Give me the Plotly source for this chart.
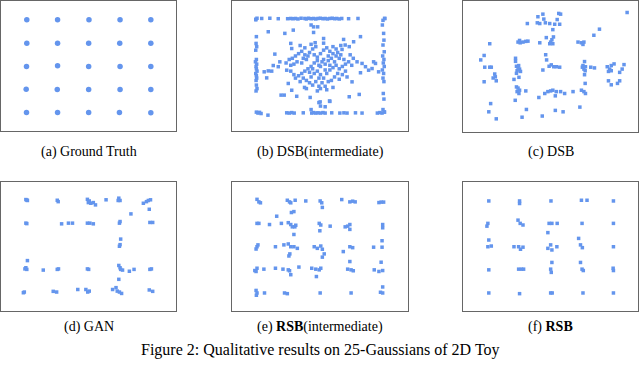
import plotly.graph_objects as go

# point clouds, in grid units (Gaussian centres at -2..2)
gt_pts = [
    (-2.0, 2.01), (-1.01, 2.01), (0.0, 2.01), (1.0, 2.01), (1.99, 2.01),
    (-2.0, 1.0), (-1.01, 1.0), (-0.01, 1.0), (0.99, 1.0), (1.99, 1.0),
    (-2.01, 0.0), (-1.01, 0.03), (-0.01, 0.0), (1.0, 0.0), (1.99, 0.0),
    (-2.02, -0.98), (-1.02, -0.99), (-0.01, -0.99), (1.0, -0.99), (1.99, -0.99),
    (-2.01, -1.98), (-1.01, -1.98), (-0.01, -1.98), (0.98, -1.98), (1.99, -1.99),
]

dsb_mid_pts = [
    # top edge
    (-2.07, 2.03), (-2.03, 2.07), (-1.88, 2.06), (-1.62, 2.07), (-1.35, 2.05), (-1.05, 2.05),
    (-0.95, 2.06), (-0.88, 2.05), (-0.8, 2.06), (-0.72, 2.04), (-0.62, 2.07), (-0.5, 2.06),
    (-0.45, 2.04), (-0.38, 2.07), (-0.3, 2.05), (-0.22, 2.06), (-0.15, 2.04), (-0.08, 2.06),
    (0.0, 2.07), (0.08, 2.05), (0.15, 2.06), (0.22, 2.04), (0.3, 2.06), (0.38, 2.07),
    (0.45, 2.05), (0.52, 2.06), (0.6, 2.04), (0.68, 2.06), (0.9, 2.05), (1.2, 2.06),
    (2.05, 2.06), (2.0, 1.98),
    # left edge
    (-2.07, 2.0), (-2.05, 1.28), (-2.06, 0.99), (-2.04, 0.85), (-2.07, 0.7), (-2.05, 0.3),
    (-2.08, 0.2), (-2.04, 0.1), (-2.06, 0.0), (-2.05, -0.1), (-2.03, -0.2), (-2.07, -0.3),
    (-2.05, -0.4), (-2.04, -0.5), (-2.06, -0.6), (-2.05, -0.8), (-2.03, -0.95), (-2.06, -1.05),
    # right edge
    (2.06, 2.06), (1.98, 1.78), (2.02, 1.42), (2.03, 1.13), (2.0, 0.92), (2.04, 0.63),
    (1.99, 0.45), (2.03, 0.3), (2.01, 0.15), (2.04, 0.0), (1.98, -0.15), (2.02, -0.3),
    (2.0, -0.5), (2.03, -0.65), (2.01, -1.16), (2.03, -1.4), (2.0, -1.85), (2.04, -1.95),
    # bottom edge
    (-2.05, -1.96), (-2.0, -2.0), (-1.95, -1.97), (-1.9, -2.02), (-1.68, -2.09), (-1.08, -1.99),
    (-1.0, -2.0), (-0.92, -1.98), (-0.84, -2.0), (-0.55, -1.99), (-0.28, -2.0), (-0.22, -1.98),
    (-0.15, -2.0), (-0.08, -1.99), (0.0, -2.0), (0.08, -1.98), (0.15, -2.0), (0.36, -1.99),
    (0.62, -2.0), (0.75, -1.99), (0.85, -2.0), (1.12, -1.99), (1.33, -2.0), (1.82, -2.0),
    (1.9, -1.98), (1.97, -2.0), (2.05, -1.96),
    (-0.3, -1.85), (0.0, -1.7), (-0.05, -1.55), (0.3, -1.5), (0.15, -1.73),
    # scattered interior
    (-1.67, 1.49), (-1.14, 1.42), (-0.87, 1.56), (-0.3, 1.78), (-0.22, 1.7), (-0.09, 1.7),
    (-0.22, 1.46), (0.1, 1.2), (0.74, 1.16), (1.06, 1.06), (0.79, 0.92), (0.92, 0.85),
    (0.69, 0.73), (1.28, 1.28), (-0.17, 1.02), (-0.95, 0.99), (-0.92, 0.77), (-1.46, 0.53),
    (-1.3, 0.2), (-1.51, 0.04), (-1.67, -0.19), (-1.8, -0.23), (-1.72, -0.49), (-1.35, -0.01),
    (-1.56, -0.2), (-1.08, -0.16),
    (1.17, 0.2), (1.33, 0.13), (1.44, -0.01), (1.65, -0.09), (1.76, 0.13), (1.86, -0.23),
    (1.7, 0.2), (1.54, -0.16), (1.28, -0.27), (1.01, -0.66), (1.24, -1.2), (0.92, -1.3),
    (-1.03, -0.73), (-0.92, -1.02), (-0.76, -1.28), (-1.26, -1.23), (-1.16, -1.23),
    (-0.51, -0.9), (-0.33, -1.33), (-0.01, -1.52), (0.29, -1.48),
    # central cloud
    (-0.9, 0.35), (-0.8, 0.45), (-0.7, 0.55), (-0.6, 0.65), (-0.5, 0.5), (-0.75, 0.2),
    (-0.85, 0.1), (-0.95, 0.05), (-0.6, 0.15), (-0.45, 0.3), (-0.35, 0.6), (-0.25, 0.75),
    (-0.15, 0.85), (-0.2, 0.5), (-0.1, 0.4), (0.0, 0.55), (0.1, 0.7), (0.2, 0.8),
    (0.3, 0.65), (0.4, 0.55), (0.5, 0.45), (0.6, 0.35), (0.45, 0.2), (0.35, 0.35),
    (0.25, 0.25), (0.15, 0.1), (0.05, 0.2), (-0.05, 0.05), (-0.2, 0.15), (-0.3, 0.0),
    (-0.4, -0.1), (-0.5, -0.2), (-0.6, -0.3), (-0.7, -0.4), (-0.8, -0.5), (-0.55, -0.5),
    (-0.45, -0.6), (-0.3, -0.45), (-0.2, -0.3), (-0.1, -0.2), (0.0, -0.35), (0.1, -0.5),
    (0.05, -0.7), (-0.05, -0.85), (-0.15, -0.65), (-0.25, -0.8), (0.15, -0.85), (0.2, -0.3),
    (0.3, -0.15), (0.4, -0.05), (0.5, 0.05), (0.6, -0.1), (0.7, 0.0), (0.8, 0.1),
    (0.9, 0.2), (0.75, 0.3), (0.65, 0.5), (0.55, 0.6), (0.8, -0.2), (0.7, -0.35),
    (0.55, -0.3), (0.45, -0.45), (0.35, -0.6), (0.6, -0.55), (0.85, -0.45), (1.0, 0.05),
    (1.05, 0.35), (0.95, 0.5), (-1.0, 0.3), (-1.1, 0.15), (-0.95, -0.2), (-0.85, -0.35),
    (-0.65, -0.65), (-0.35, -0.25), (0.0, 0.0), (0.1, 0.3), (-0.1, 0.25), (0.25, 0.45),
    (-0.4, 0.45), (-0.55, 0.35), (0.3, 0.05), (-0.25, -0.1), (0.15, -0.15), (-0.05, -0.5),
    (0.25, -0.65), (-0.35, -0.7), (0.4, 0.85), (0.5, 0.75), (-0.5, 0.8), (-0.65, 0.9),
    (0.1, 1.0), (-0.3, 0.95), (0.65, 0.9), (0.2, -1.0), (-0.1, -1.05), (0.0, -0.95),
    (0.4, -0.9), (-0.45, -0.95),
]

dsb_pts = [
    (2.45, 2.32), (-0.42, 2.14), (-0.26, 2.25), (-0.23, 2.04), (-0.44, 1.88), (-0.36, 1.85),
    (-0.18, 1.88), (-0.04, 1.85), (0.12, 1.82), (0.28, 1.82), (0.2, 2.02), (0.25, 2.28),
    (0.31, 2.25), (-0.76, 1.85), (0.06, 1.59), (1.56, 1.61), (1.38, 1.35),
    (-1.06, 1.06), (-0.99, 1.03), (-0.9, 1.06), (-0.81, 1.09), (-0.74, 1.1), (-1.01, 1.13),
    (-0.36, 1.03), (-0.15, 1.25), (-0.01, 1.06), (0.03, 1.16), (0.08, 1.28), (-0.04, 0.99),
    (0.06, 0.99), (0.87, 1.06), (0.98, 1.03), (1.06, 1.06), (1.03, 0.96), (-1.97, 0.99),
    (-2.15, 0.49), (-2.26, 0.3), (-2.13, -0.01), (-1.97, -0.01), (-1.92, -0.01), (-1.81, -0.3),
    (-1.79, -0.42), (-1.86, -0.47), (-1.76, -0.59), (-2.15, -0.63),
    (-1.14, 0.37), (-1.14, 0.24), (-1.11, 0.03), (-1.06, -0.01), (-1.01, -0.09), (-1.09, -0.16),
    (-1.04, 0.06), (-0.98, -0.19), (-1.11, -0.27), (-1.19, -0.53), (-1.03, -0.44),
    (-0.17, 0.52), (-0.14, 0.3), (-0.26, -0.13), (-0.06, 0.03), (0.01, 0.09), (0.09, 0.01),
    (0.17, 0.01), (0.28, -0.01), (1.08, 0.23), (1.01, -0.01), (1.06, -0.09), (1.1, -0.16),
    (1.03, 0.06), (1.11, 0.01), (1.28, -0.01), (1.4, -0.04), (1.1, -0.7), (1.08, -0.33),
    (1.81, 0.01), (1.89, -0.09), (1.94, 0.06), (2.03, 0.13), (1.85, -0.19), (1.94, -0.16),
    (2.21, -0.23), (2.29, -0.09), (2.35, 0.1), (1.85, -0.59), (1.94, -0.76), (2.14, -0.7),
    (2.21, -0.59),
    (-1.11, -0.85), (-1.06, -0.9), (-1.01, -0.99), (-1.09, -1.05), (-1.03, -1.13), (-1.15, -1.42),
    (-0.81, -1.02), (-0.39, -1.3), (-0.2, -1.13), (-0.1, -1.05), (-0.01, -1.02), (0.06, -0.99),
    (0.17, -1.05), (0.31, -1.05), (0.44, -1.13), (0.14, -1.23), (0.71, -1.05), (0.98, -0.99),
    (1.06, -1.05), (1.11, -1.13),
    (-1.94, -1.56), (-2.0, -1.91), (-1.76, -2.21), (-0.79, -1.81), (-0.93, -2.14), (-0.28, -2.09),
    (0.14, -1.85), (0.39, -1.91), (0.93, -1.71),
]

gan_pts = [
    (-2.03, 2.05), (-1.98, 2.01), (-2.0, 2.03), (-1.02, 2.02), (-0.99, 1.96),
    (-0.05, 2.06), (0.01, 1.99), (-0.02, 1.92), (0.06, 1.89), (0.14, 1.92), (0.21, 1.82),
    (0.55, 2.04), (0.96, 2.11), (1.0, 2.01), (0.94, 2.01), (1.91, 2.01), (1.98, 2.04),
    (1.85, 1.96), (1.75, 1.89), (1.94, 1.63), (1.35, 1.43),
    (-2.03, 1.03), (-2.0, 1.01), (-0.88, 1.0), (-0.66, 1.03), (-0.53, 1.03), (-0.05, 1.03),
    (0.03, 1.03), (0.14, 1.0), (0.98, 1.03), (1.0, 1.1), (1.96, 1.06), (2.05, 1.06),
    (1.02, 0.34), (1.0, 0.1), (0.98, 0.03),
    (-1.98, -0.59), (-2.06, -0.95), (-2.0, -0.97), (-2.03, -0.9), (-1.47, -1.0), (-1.02, -0.97),
    (-0.98, -0.95), (-0.05, -0.95), (-0.01, -0.97), (0.96, -0.8), (1.0, -0.9), (1.02, -0.97),
    (1.08, -1.0), (1.3, -1.05), (1.45, -0.97), (1.96, -0.97), (2.01, -0.95), (0.96, -1.4),
    (-2.11, -1.98), (-2.08, -1.95), (-1.15, -1.92), (-1.04, -1.95), (-0.36, -1.84), (-0.1, -1.84),
    (-0.04, -1.95), (0.01, -1.91), (0.76, -1.84), (0.87, -1.76), (0.91, -1.91), (0.98, -1.95),
    (1.05, -2.01), (1.94, -1.86), (2.05, -1.92),
]

rsb_mid_pts = [
    (-2.03, 2.06), (-1.97, 1.95), (-1.92, 1.91), (-1.06, 2.02), (-0.99, 1.95), (-0.81, 2.02),
    (-0.95, 1.91), (-0.47, 1.99), (-0.01, 1.99), (0.04, 1.91), (0.06, 1.71), (0.68, 2.05),
    (0.94, 1.95), (1.03, 1.98), (1.11, 1.95), (1.87, 1.92), (1.94, 1.94), (2.02, 1.94),
    (-1.4, 1.33), (-0.93, 1.49), (-0.85, 1.53),
    (-2.03, 1.02), (-1.97, 1.02), (-1.63, 0.97), (-1.25, 1.02), (-1.03, 1.05), (-0.95, 0.97),
    (-0.9, 0.87), (-0.82, 0.87), (-0.79, 0.94), (-0.85, 0.54), (-0.04, 1.02), (0.01, 0.95),
    (-0.02, 0.7), (0.31, 0.9), (0.79, 0.87), (0.87, 0.9), (0.94, 0.97), (0.94, 0.76),
    (1.99, 0.97), (1.99, 0.83),
    (-2.03, 0.01), (-2.06, -0.09), (-2.0, 0.09), (-1.44, 0.01), (-1.17, 0.09), (-1.03, 0.13),
    (-0.95, 0.01), (-0.85, 0.01), (-0.74, -0.06), (-0.98, -0.3), (-1.01, -0.39), (-0.2, 0.01),
    (-0.1, -0.06), (0.01, 0.04), (0.06, -0.1), (0.12, -0.3), (0.06, -0.44), (0.73, -0.2),
    (0.94, 0.01), (1.03, -0.03), (1.7, -0.01), (1.97, 0.27), (1.97, -0.01),
    (-2.1, -1.02), (-2.03, -0.92), (-2.06, -1.06), (-1.81, -0.96), (-1.44, -0.92), (-1.2, -0.96),
    (-1.03, -0.99), (-0.95, -1.2), (-0.99, -1.03), (-0.69, -0.87), (-0.28, -0.92), (-0.15, -0.96),
    (-0.04, -0.99), (0.01, -0.92), (-0.13, -1.28), (0.94, -0.63), (0.87, -0.96), (0.98, -0.99),
    (1.05, -1.03), (1.94, -0.66), (1.72, -0.99), (1.87, -1.06), (1.99, -1.02),
    (-2.06, -1.88), (-2.03, -1.99), (-2.05, -2.09), (-1.79, -1.99), (-1.15, -1.99), (-1.06, -2.02),
    (-0.01, -1.99), (0.98, -1.99), (1.99, -1.73), (1.92, -1.96), (1.99, -1.99),
]

rsb_pts = [
    (-2.0, 1.99), (-1.01, 1.99), (-1.01, 1.88), (0.0, 1.99), (0.98, 2.02), (1.16, 2.02), (2.01, 1.99),
    (-2.03, 1.02), (-2.06, 0.9), (-1.06, 1.16), (-0.99, 1.02), (-0.9, 0.95), (-0.06, 1.02),
    (0.03, 1.02), (0.2, 1.02), (-0.1, 0.62), (1.0, 1.02), (2.01, 1.02),
    (-2.0, 0.3), (-2.03, 0.01), (-1.92, 0.04), (-1.19, 0.01), (-1.04, 0.01), (-0.98, -0.1),
    (-0.9, -0.01), (-0.1, -0.06), (-0.01, 0.09), (0.03, -0.13), (0.19, 0.01), (0.89, 0.37),
    (0.95, 0.09), (1.01, -0.03), (2.01, 0.01),
    (-2.0, -0.99), (-1.04, -0.96), (-0.95, -0.96), (-0.88, -0.96), (0.03, -0.67), (-0.01, -0.96),
    (0.01, -1.1), (0.95, -0.67), (1.0, -0.96), (1.04, -1.02), (2.0, -0.92), (2.01, -1.02),
    (-2.0, -1.99), (-1.01, -2.02), (-0.01, -1.99), (0.04, -1.99), (1.03, -1.99), (2.01, -1.99),
]

captions = ["(a) Ground Truth", "(b) DSB(intermediate)", "(c) DSB",
            "(d) GAN", "(e) <b>RSB</b>(intermediate)", "(f) <b>RSB</b>"]
title = "Figure 2: Qualitative results on 25-Gaussians of 2D Toy"

panels = [gt_pts, dsb_mid_pts, dsb_pts, gan_pts, rsb_mid_pts, rsb_pts]

W, H = 640, 365
# panel frames in pixels (left, right, top, bottom)
frames = [(1, 176, 1, 131), (232, 408, 1, 131), (463, 638, 1, 132),
          (1, 176, 182, 311), (232, 408, 182, 311), (463, 638, 182, 311)]
cap_y = [152, 152, 152, 327, 327, 327]

blue = "#6495ED"
serif = "Liberation Serif, Times New Roman, serif"

fig = go.Figure()
for i, pts in enumerate(panels):
    n = "" if i == 0 else str(i + 1)
    xs, ys = zip(*pts)
    fig.add_trace(go.Scatter(
        x=xs, y=ys, mode="markers", xaxis="x" + n, yaxis="y" + n,
        marker=dict(symbol="circle" if i == 0 else "square",
                    size=5.5 if i == 0 else 3.5, color=blue, line=dict(width=0)),
        showlegend=False, hoverinfo="skip"))
    l, r, t, b = frames[i]
    ax = dict(domain=[l / W, r / W], range=[-2.83, 2.8], showgrid=False,
              zeroline=False, showticklabels=False, ticks="",
              showline=True, mirror=True, linecolor="#666666", linewidth=1)
    ay = dict(domain=[1 - b / H, 1 - t / H], range=[-2.77, 2.81], showgrid=False,
              zeroline=False, showticklabels=False, ticks="",
              showline=True, mirror=True, linecolor="#666666", linewidth=1)
    ax["anchor"] = "y" + n
    ay["anchor"] = "x" + n
    fig.update_layout({"xaxis" + n: ax, "yaxis" + n: ay})
    fig.add_annotation(text=captions[i], xref="paper", yref="paper",
                       x=(l + r) / 2 / W, y=1 - cap_y[i] / H, showarrow=False,
                       xanchor="center", yanchor="middle",
                       font=dict(family=serif, size=14, color="black"))

fig.add_annotation(text=title, xref="paper", yref="paper", x=0.5, y=1 - 350 / H,
                   showarrow=False, xanchor="center", yanchor="middle",
                   font=dict(family=serif, size=16, color="black"))

fig.update_layout(width=W, height=H, margin=dict(l=0, r=0, t=0, b=0),
                  paper_bgcolor="white", plot_bgcolor="white")

# the page's default 8px body margin would shift the figure
fig.write_html("out.html", config={"displayModeBar": False},
               post_script="document.body.style.margin='0px';")
